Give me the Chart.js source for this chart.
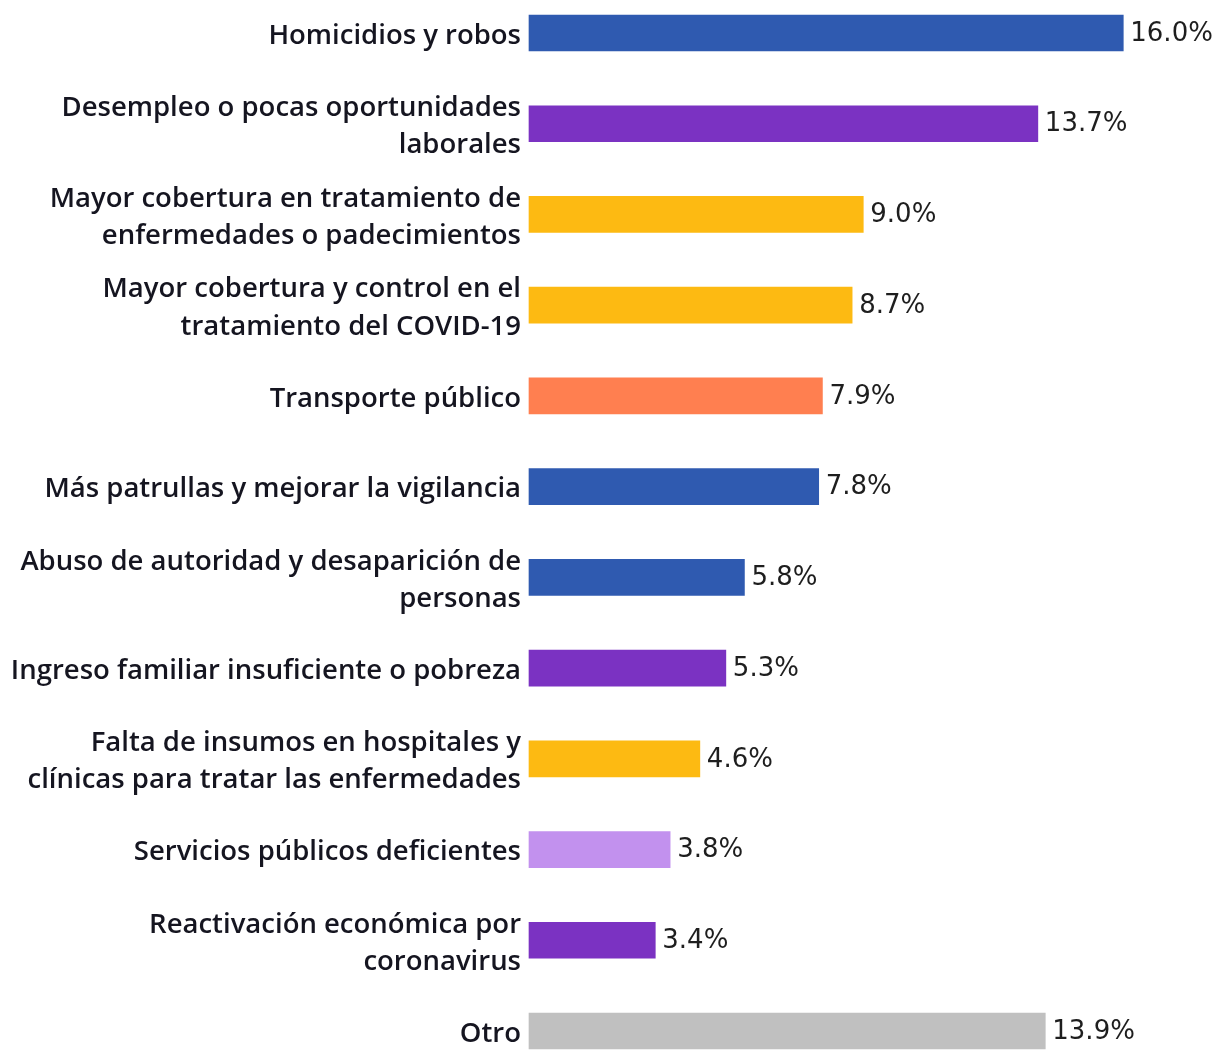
<!DOCTYPE html>
<html>
<head>
<meta charset="utf-8">
<script src="https://cdn.jsdelivr.net/npm/chart.js@4.4.0/dist/chart.umd.min.js"></script>
<style>
  html, body { margin: 0; padding: 0; background: #ffffff; }
  #wrap { width: 1217px; height: 1057px; position: relative; }
</style>
</head>
<body>
<div id="wrap"><canvas id="chart"></canvas></div>
<script>
// Categories (multi-line labels as arrays)
const categories = [
  ["Homicidios y robos"],
  ["Desempleo o pocas oportunidades", "laborales"],
  ["Mayor cobertura en tratamiento de", "enfermedades o padecimientos"],
  ["Mayor cobertura y control en el", "tratamiento del COVID-19"],
  ["Transporte público"],
  ["Más patrullas y mejorar la vigilancia"],
  ["Abuso de autoridad y desaparición de", "personas"],
  ["Ingreso familiar insuficiente o pobreza"],
  ["Falta de insumos en hospitales y", "clínicas para tratar las enfermedades"],
  ["Servicios públicos deficientes"],
  ["Reactivación económica por", "coronavirus"],
  ["Otro"]
];

// Share of mentions, percent
const values = [16.0, 13.7, 9.0, 8.7, 7.9, 7.8, 5.8, 5.3, 4.6, 3.8, 3.4, 13.9];

// Bar colours by theme
const barColors = [
  "#2F5AB0", "#7B32C2", "#FDBA12", "#FDBA12", "#FF7F50", "#2F5AB0",
  "#2F5AB0", "#7B32C2", "#FDBA12", "#C291EE", "#7B32C2", "#C0C0C0"
];

const LABEL_AREA = 529;

// Writes the percentage just past the end of each bar
const valueLabels = {
  id: "valueLabels",
  afterDatasetsDraw(chart) {
    const ctx = chart.ctx;
    const meta = chart.getDatasetMeta(0);
    ctx.save();
    ctx.fillStyle = "#1e1e1e";
    ctx.font = "26px 'DejaVu Sans', sans-serif";
    ctx.textAlign = "left";
    ctx.textBaseline = "middle";
    meta.data.forEach((bar, i) => {
      ctx.fillText(values[i].toFixed(1) + "%", bar.x + 7, bar.y + 1);
    });
    ctx.restore();
  }
};

new Chart(document.getElementById("chart"), {
  type: "bar",
  data: {
    labels: categories,
    datasets: [{
      data: values,
      backgroundColor: barColors,
      borderWidth: 0,
      barThickness: 36,
      clip: false
    }]
  },
  options: {
    indexAxis: "y",
    responsive: true,
    maintainAspectRatio: false,
    animation: false,
    layout: { padding: { top: 33, bottom: 26, left: 0, right: 38 } },
    plugins: {
      legend: { display: false },
      tooltip: { enabled: false }
    },
    scales: {
      x: {
        display: false,
        min: 0,
        max: 17.5
      },
      y: {
        offset: false,
        grid: { display: false },
        border: { display: false },
        afterFit(scale) { scale.width = LABEL_AREA; },
        ticks: {
          color: "#151520",
          padding: 0,
          labelOffset: 3,
          font: { family: "'Open Sans', sans-serif", size: 27.5, weight: 600, lineHeight: 1.35 }
        }
      }
    }
  },
  plugins: [valueLabels]
});
</script>
</body>
</html>
